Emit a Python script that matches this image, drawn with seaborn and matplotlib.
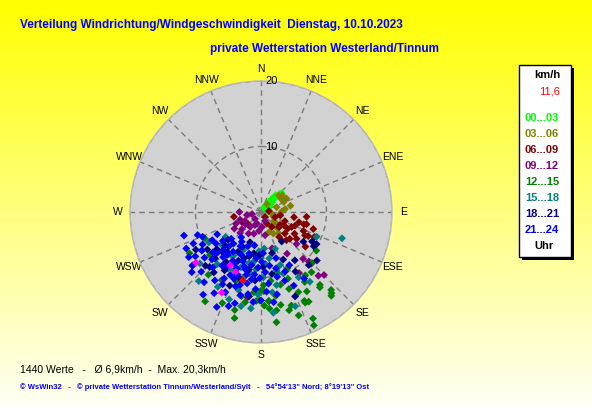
import numpy as np
import pandas as pd
import matplotlib
matplotlib.use("Agg")
import matplotlib.pyplot as plt
from matplotlib.patches import Rectangle
import seaborn as sns

# ---------------- data (wind direction in degrees, speed in km/h) ----------------
dir_00_03 = [30, 35, 40, 38, 42, 44, 45, 47, 46, 43, 50, 55, 70, 85, 60, 48, 41, 39]
spd_00_03 = [0.8, 1.2, 1.6, 2.0, 2.4, 2.8, 3.2, 3.6, 4.0, 3.0, 2.2, 1.5, 1.2, 1.0, 0.9, 4.3, 3.4, 2.6]

dir_03_06 = [58, 47, 83, 73, 100, 125, 144, 158, 127, 96, 66, 37, 110, 135, 150, 88, 62, 52, 78, 140]
spd_03_06 = [3.7, 3.7, 3.7, 2.5, 1.7, 2.4, 2.8, 3.3, 3.0, 2.9, 3.8, 1.5, 2.0, 3.5, 3.8, 3.2, 4.4, 4.1, 4.6, 4.2]

dir_06_09 = [260, 242, 108, 115, 105, 105, 116, 132, 144, 144, 141, 83, 110, 111, 123, 114, 117,
             106, 133, 127, 144, 153, 227, 124, 122, 96, 99, 120, 130, 112, 100, 118, 138, 128]
spd_06_09 = [4.2, 3.3, 8.4, 9.0, 7.2, 6.0, 5.2, 4.9, 4.7, 2.8, 1.0, 1.2, 2.3, 3.9, 6.1, 7.1, 8.1,
             6.8, 6.0, 6.8, 5.4, 2.0, 2.7, 3.5, 4.8, 7.0, 5.1, 4.0, 3.6, 5.6, 3.0, 7.6, 5.8, 8.6]

dir_09_12 = [257, 241, 186, 156, 216, 221, 258, 176, 198, 228, 270, 198, 132, 148, 135, 136, 138,
             189, 238, 148, 163, 138, 136, 189, 205, 232, 250, 210, 170, 245, 225]
spd_09_12 = [1.4, 2.8, 2.9, 1.5, 2.8, 1.4, 2.2, 2.3, 3.5, 3.9, 3.3, 1.9, 7.3, 11.0, 13.6, 11.0, 9.6,
             13.1, 4.8, 7.5, 5.8, 13.1, 10.5, 13.2, 2.2, 3.0, 3.4, 3.8, 3.6, 4.2, 4.5]

dir_12_15 = [125, 141, 139, 154, 154, 171, 164, 160, 172, 155, 154, 175, 178, 240, 212, 203, 194,
             193, 181, 178, 183, 138, 140,
             165, 160, 170, 155, 150, 158, 145, 175, 168, 162, 180, 185, 178, 172, 165, 155,
             148, 140, 152, 142, 135, 175, 190, 195, 210, 220, 245, 240, 230, 200]
spd_12_15 = [10.3, 14.3, 16.4, 15.1, 15.4, 15.2, 15.6, 16.8, 17.0, 19.1, 18.1, 13.7, 14.3, 9.1, 16.1, 15.1, 16.7,
             13.2, 13.5, 12.1, 13.6, 16.0, 16.7,
             11.5, 12.5, 13.0, 13.5, 14.0, 11.0, 11.8, 13.6, 14.5, 15.0, 12.0, 12.3, 11.2, 10.6, 9.6, 9.5,
             12.6, 12.0, 15.5, 14.6, 11.0, 14.8, 14.0, 15.5, 12.0, 12.5, 9.5, 12.6, 10.2, 11.2]

dir_15_18 = [108, 222, 224, 237, 192, 235, 160, 159, 114,
             180, 175, 185, 170, 165, 190, 195, 200, 205, 188, 178, 168, 160, 172, 182, 196, 210,
             220, 228, 215, 230, 193, 183, 175, 160, 150, 145, 210, 200, 186, 173, 230, 240, 205, 212]
spd_15_18 = [13.0, 14.2, 10.0, 10.7, 14.7, 6.6, 15.3, 6.0, 9.3,
             7.0, 8.0, 8.8, 7.2, 9.2, 9.5, 10.4, 9.0, 9.8, 7.6, 10.0, 11.4, 10.0, 12.4, 12.6, 12.4, 10.0,
             10.4, 9.0, 8.0, 12.2, 8.0, 6.0, 5.6, 8.6, 11.5, 13.0, 13.2, 14.2, 14.8, 15.5, 7.8, 9.2, 6.4, 7.8]

dir_18_21 = [125, 120, 131, 138, 158, 232, 226, 223, 224, 227, 145, 120, 123,
             200, 210, 220, 215, 205, 195, 190, 230, 225, 212, 198, 185, 178, 170, 208, 235,
             240, 218, 203, 192, 182, 165, 200, 155, 150, 145, 230, 188]
spd_18_21 = [7.9, 9.8, 11.3, 10.9, 13.9, 13.3, 11.8, 11.5, 8.5, 7.5, 5.5, 9.0, 9.6,
             7.5, 7.0, 8.0, 9.3, 8.2, 7.0, 6.4, 8.8, 10.0, 10.5, 10.6, 10.5, 8.4, 9.6, 6.0, 10.0,
             11.5, 11.7, 12.2, 9.0, 6.6, 6.5, 4.9, 8.0, 10.5, 9.0, 6.6, 13.0]

dir_21_24 = [200, 205, 195, 210, 215, 190, 186, 220, 225, 201, 196, 211, 206, 216, 230, 235, 181,
             176, 191, 199, 209, 221, 226, 231, 241, 236, 186, 171, 166, 161, 176, 194, 204, 214,
             245, 250, 221, 228, 201, 191, 177, 162, 152, 156, 185, 210, 238, 247, 232, 199, 147,
             184, 188, 193, 197, 203, 207, 212, 218, 223, 227, 233, 240, 243, 213, 218, 183, 179,
             174, 169, 165, 158, 196, 202, 208, 219, 225, 229, 189, 180, 172, 237, 244, 253, 215,
             205, 196]
spd_21_24 = [8.0, 7.2, 9.1, 8.6, 7.4, 8.2, 9.6, 9.0, 8.1, 10.2, 6.6, 6.1, 10.7, 10.1, 9.6, 8.4, 10.1,
             9.2, 11.1, 12.0, 11.6, 11.2, 10.4, 11.1, 10.2, 12.1, 7.1, 8.3, 10.2, 11.1, 12.2, 13.1, 13.4, 12.6,
             11.4, 10.3, 6.4, 6.1, 5.6, 5.2, 6.3, 7.4, 9.2, 12.3, 13.8, 14.3, 13.0, 9.7, 13.2, 15.2, 12.1,
             11.8, 10.4, 9.8, 8.7, 9.4, 8.9, 9.8, 8.3, 7.2, 9.3, 7.3, 8.6, 7.5, 5.4, 4.9, 8.5, 7.6,
             11.0, 12.8, 8.9, 9.8, 11.6, 11.0, 12.5, 13.8, 12.9, 14.0, 12.7, 13.5, 13.9, 10.8, 12.7, 12.3, 15.4,
             16.0, 14.5]

dir_extra = [232, 206, 203, 210]
spd_extra = [12.6, 13.7, 9.9, 9.4]

dir_last = [195]
spd_last = [10.8]

groups = ["00...03", "03...06", "06...09", "09...12", "12...15", "15...18", "18...21", "21...24"]
group_colors = ["#00ff00", "#808000", "#800000", "#800080", "#008000", "#008080", "#000080", "#0000ff"]
dir_labels = ["N", "NNE", "NE", "ENE", "E", "ESE", "SE", "SSE",
              "S", "SSW", "SW", "WSW", "W", "WNW", "NW", "NNW"]
ring_values = [10, 20]
current_value = "11,6"

title1 = "Verteilung Windrichtung/Windgeschwindigkeit  Dienstag, 10.10.2023"
title2 = "private Wetterstation Westerland/Tinnum"
stats_text = "1440 Werte   -   \u00d8 6,9km/h  -  Max. 20,3km/h"
copy_text = ("\u00a9 WsWin32   -   \u00a9 private Wetterstation Tinnum/Westerland/Sylt   -   "
             "54\u00b054'13\" Nord; 8\u00b019'13\" Ost")

# ---------------- table ----------------
series = [(dir_00_03, spd_00_03, "00...03"), (dir_03_06, spd_03_06, "03...06"),
          (dir_06_09, spd_06_09, "06...09"), (dir_09_12, spd_09_12, "09...12"),
          (dir_12_15, spd_12_15, "12...15"), (dir_15_18, spd_15_18, "15...18"),
          (dir_18_21, spd_18_21, "18...21"), (dir_21_24, spd_21_24, "21...24"),
          (dir_extra, spd_extra, "extra"), (dir_last, spd_last, "last")]
frames = [pd.DataFrame({"dir": d, "speed": s, "group": g}) for d, s, g in series]
df = pd.concat(frames, ignore_index=True)
df["theta"] = np.deg2rad(df["dir"])
palette = dict(zip(groups, group_colors))
palette["extra"] = "#ff00ff"
palette["last"] = "#ff0000"

# ---------------- figure ----------------
sns.set_theme(style="white")
plt.rcParams["font.family"] = ["Liberation Sans", "DejaVu Sans"]

W, H = 592, 407
fig = plt.figure(figsize=(W / 100, H / 100), dpi=100)

# background gradient yellow -> pale
bg = fig.add_axes([0, 0, 1, 1], zorder=-10)
n = 256
grad = np.ones((n, 1, 3))
grad[:, 0, 2] = np.linspace(0.0, 0.96, n)
bg.imshow(grad, aspect="auto", extent=[0, 1, 0, 1], origin="upper")
bg.set_axis_off()

# polar axes
cx, cy, R = 261, 212, 131
ax = fig.add_axes([(cx - R) / W, (H - cy - R) / H, 2 * R / W, 2 * R / H], projection="polar")
ax.set_facecolor("#d2d2d2")
ax.set_theta_zero_location("N")
ax.set_theta_direction(-1)
ax.set_ylim(0, 20)
ax.set_xticks(np.deg2rad(np.arange(0, 360, 22.5)))
ax.set_xticklabels(dir_labels, fontsize=7.5, color="black")
ax.tick_params(axis="x", pad=-4.5)
ax.set_yticks(ring_values)
ax.set_yticklabels([])
ax.grid(True, color="#7a7a7a", linestyle=(0, (4, 3)), linewidth=1.0)
ax.spines["polar"].set_color("#b8b8b8")
ax.spines["polar"].set_linewidth(1.0)

sns.scatterplot(data=df, x="theta", y="speed", hue="group", palette=palette,
                marker="D", s=16, linewidth=0, legend=False, ax=ax, zorder=3)
ax.set_xlabel("")
ax.set_ylabel("")
ax.set_ylim(0, 20)

for r in ring_values:
    ax.annotate(str(r), xy=(0, r), xytext=(3, 0), textcoords="offset points",
                ha="left", va="center", fontsize=8, color="black", zorder=5)

# titles
fig.text(20 / W, 1 - 25 / H, title1, ha="left", va="center", fontsize=8.5,
         fontweight="bold", color="#0000ff")
fig.text(439 / W, 1 - 49 / H, title2, ha="right", va="center", fontsize=8.5,
         fontweight="bold", color="#0000ff")

# legend box with shadow
fig.patches.append(Rectangle((522 / W, 1 - 260 / H), 52 / W, 192 / H, transform=fig.transFigure,
                             facecolor="black", edgecolor="none", zorder=1))
fig.patches.append(Rectangle((519 / W, 1 - 257 / H), 52 / W, 192 / H, transform=fig.transFigure,
                             facecolor="white", edgecolor="black", linewidth=1, zorder=2))
fig.text(547 / W, 1 - 75 / H, "km/h", ha="center", va="center", fontsize=8,
         fontweight="bold", color="black", zorder=3)
fig.text(550 / W, 1 - 92 / H, current_value, ha="center", va="center", fontsize=8,
         color="#ff0000", zorder=3)
leg_y = [118, 134, 150, 166, 182, 198, 214, 230]
for g, c, y in zip(groups, group_colors, leg_y):
    fig.text(542 / W, 1 - y / H, g, ha="center", va="center", fontsize=8,
             fontweight="bold", color=c, zorder=3)
fig.text(544 / W, 1 - 246 / H, "Uhr", ha="center", va="center", fontsize=8,
         fontweight="bold", color="black", zorder=3)

# footer texts
fig.text(20 / W, 1 - 370 / H, stats_text, ha="left", va="center", fontsize=7.5, color="black")
fig.text(20 / W, 1 - 387 / H, copy_text, ha="left", va="center", fontsize=5.5,
         fontweight="bold", color="#0000ff")

fig.savefig("out.png", dpi=100)
